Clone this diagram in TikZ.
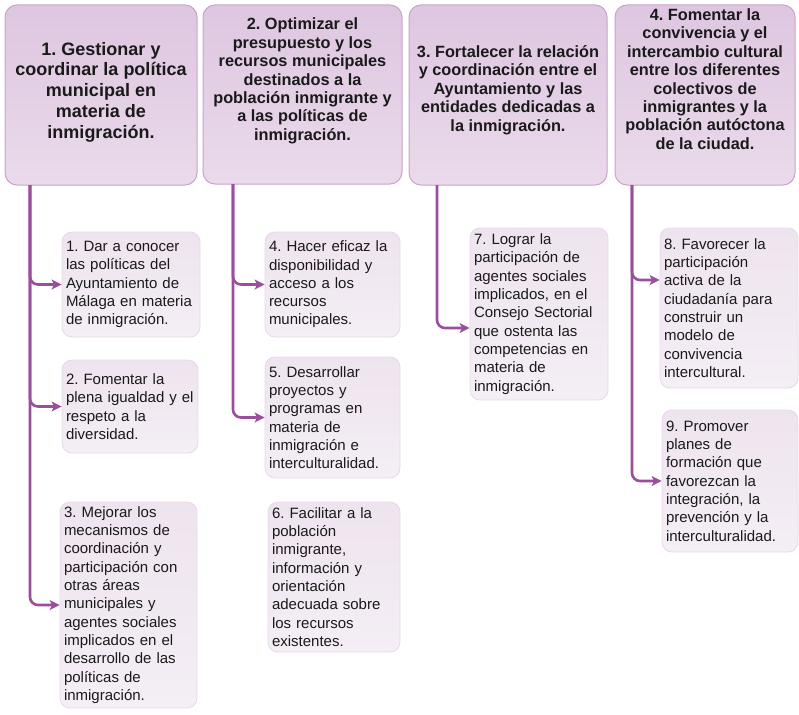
\documentclass[tikz,border=0pt]{standalone}
\usepackage{fontspec}
\setmainfont{Liberation Sans}
\usetikzlibrary{arrows.meta}
\frenchspacing
\definecolor{hTop}{HTML}{DEC6E0}
\definecolor{hBot}{HTML}{EADAEB}
\definecolor{hLine}{HTML}{C9A3CB}
\definecolor{cTop}{HTML}{EEE4EF}
\definecolor{cBot}{HTML}{F4EEF5}
\definecolor{cLine}{HTML}{E6D9E7}
\definecolor{conn}{HTML}{9A4E9B}
\definecolor{ink}{HTML}{1A1A1A}
\definecolor{shade}{HTML}{C8C0C8}
\tikzset{
  hbox/.style={rounded corners=12pt, top color=hTop, bottom color=hBot, draw=hLine, line width=1pt, inner sep=0pt},
  htext/.style={align=center, inner sep=0pt, text=ink, font=\bfseries\fontsize{16.3}{18.4}\selectfont},
  cbox/.style={rounded corners=10pt, top color=cTop, bottom color=cBot, draw=cLine, line width=0.8pt, inner xsep=4pt, inner ysep=0pt, align=left, text=ink, font=\fontsize{15}{18.3}\selectfont},
  connline/.style={draw=conn, line width=2.6pt, rounded corners=8pt, -{Stealth[length=10pt,width=10pt,inset=2.5pt]}},
}
\begin{document}
\begin{tikzpicture}[x=1pt,y=-1pt]
\useasboundingbox (0,0) rectangle (799,714);
% header boxes
\node[hbox, minimum width=192pt, minimum height=180pt] (h1) at (101,95) {};
\node[hbox, minimum width=199pt, minimum height=179pt] (h2) at (302.5,94.5) {};
\node[hbox, minimum width=198pt, minimum height=180pt] (h3) at (508,95) {};
\node[hbox, minimum width=180pt, minimum height=180pt] (h4) at (705,95) {};
\node[htext, font=\bfseries\fontsize{18}{20.8}\selectfont] (h1t) at (101,92) {1. Gestionar y\\coordinar la política\\municipal en\\materia de\\inmigración.};
\node[htext] (h2t) at (302.5,81) {2. Optimizar el\\presupuesto y los\\recursos municipales\\destinados a la\\población inmigrante y\\a las políticas de\\inmigración.};
\node[htext] (h3t) at (508,90) {3. Fortalecer la relación\\y coordinación entre el\\Ayuntamiento y las\\entidades dedicadas a\\la inmigración.};
\node[htext] (h4t) at (705,79) {4. Fomentar la\\convivencia y el\\intercambio cultural\\entre los diferentes\\colectivos de\\inmigrantes y la\\población autóctona\\de la ciudad.};
% child boxes
\node[cbox, text width=130pt, minimum height=105pt] (c1) at (131,284.5) {1. Dar a conocer\\las políticas del\\Ayuntamiento de\\Málaga en materia\\de inmigración.};
\node[cbox, text width=128pt, minimum height=93pt] (c2) at (130,406.5) {2. Fomentar la\\plena igualdad y el\\respeto a la\\diversidad.};
\node[cbox, text width=129pt, minimum height=206pt] (c3) at (128.5,605) {3. Mejorar los\\mecanismos de\\coordinación y\\participación con\\otras áreas\\municipales y\\agentes sociales\\implicados en el\\desarrollo de las\\políticas de\\inmigración.};
\node[cbox, text width=127pt, minimum height=105pt] (c4) at (332.5,284.5) {4. Hacer eficaz la\\disponibilidad y\\acceso a los\\recursos\\municipales.};
\node[cbox, text width=127pt, minimum height=121pt] (c5) at (332.5,417.5) {5. Desarrollar\\proyectos y\\programas en\\materia de\\inmigración e\\interculturalidad.};
\node[cbox, text width=124pt, minimum height=150pt] (c6) at (334,577) {6. Facilitar a la\\población\\inmigrante,\\información y\\orientación\\adecuada sobre\\los recursos\\existentes.};
\node[cbox, text width=130pt, minimum height=172pt] (c7) at (539,314) {7. Lograr la\\participación de\\agentes sociales\\implicados, en el\\Consejo Sectorial\\que ostenta las\\competencias en\\materia de\\inmigración.};
\node[cbox, text width=130pt, minimum height=160pt] (c8) at (729,308) {8. Favorecer la\\participación\\activa de la\\ciudadanía para\\construir un\\modelo de\\convivencia\\intercultural.};
\node[cbox, text width=128pt, minimum height=142pt] (c9) at (730,481) {9. Promover\\planes de\\formación que\\favorezcan la\\integración, la\\prevención y la\\interculturalidad.};
% connector origins
\coordinate (s1) at (30,185);
\coordinate (s2) at (233,184);
\coordinate (s3) at (437,185);
\coordinate (s4) at (632,185);
\draw[connline] (s1) |- (c1.west);
\draw[connline] (s1) |- (c2.west);
\draw[connline] (s1) |- (c3.west);
\draw[connline] (s2) |- (c4.west);
\draw[connline] (s2) |- (c5.west);
\draw[connline] (s3) |- ([yshift=-14pt]c7.west);
\draw[connline] (s4) |- ([yshift=28pt]c8.west);
\draw[connline] (s4) |- (c9.west);
\end{tikzpicture}
\end{document}
